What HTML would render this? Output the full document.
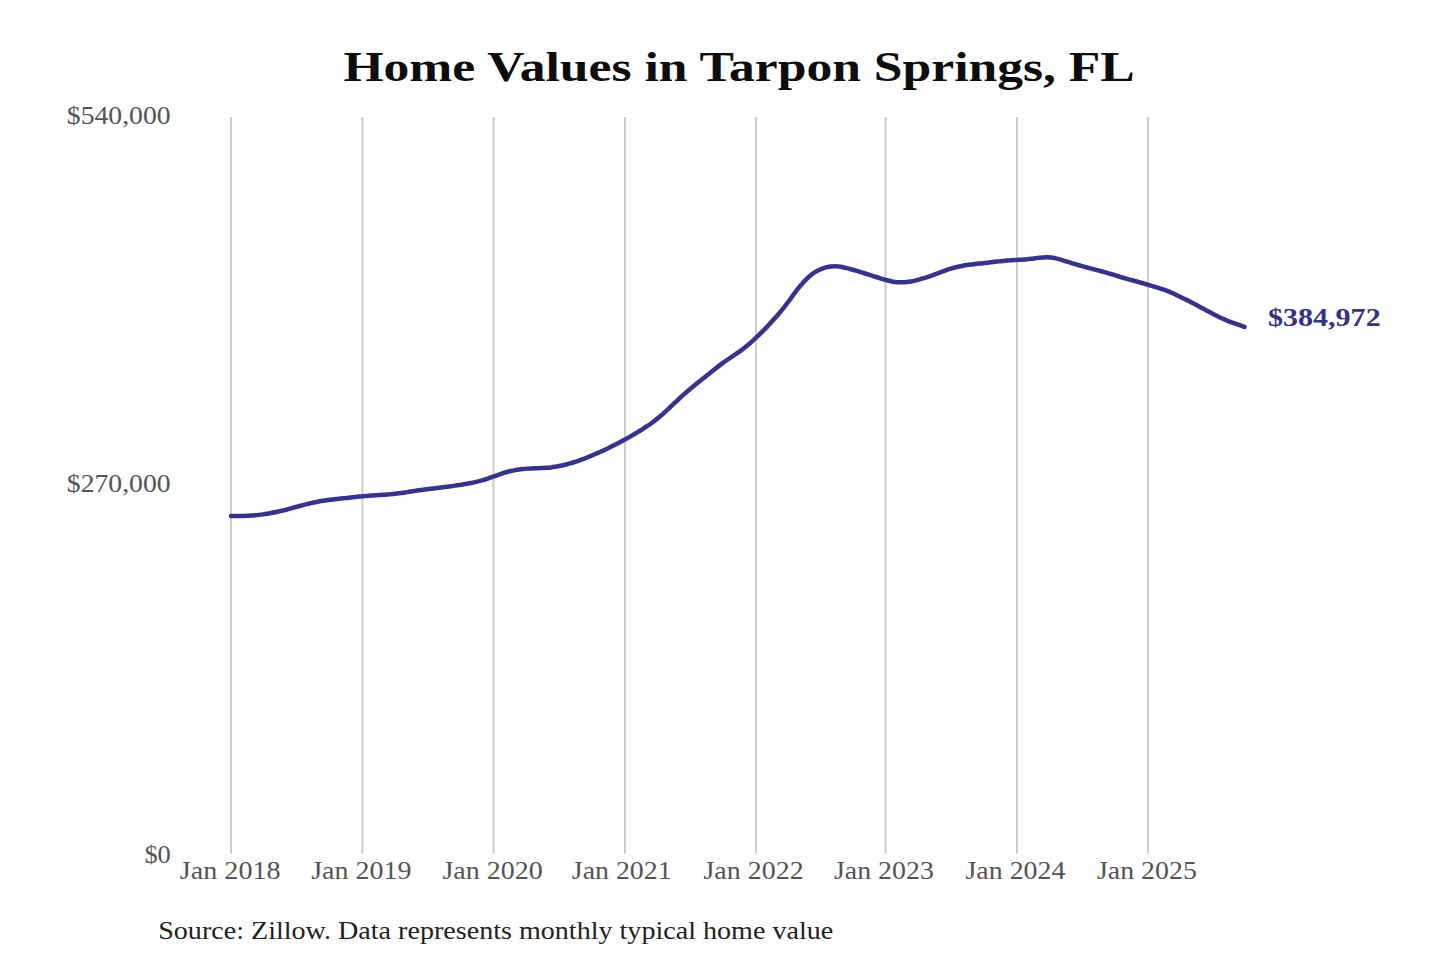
<!DOCTYPE html>
<html><head><meta charset="utf-8"><style>
html,body{margin:0;padding:0;background:#fefefe;width:1440px;height:960px;overflow:hidden}
svg{display:block;position:absolute;left:0;top:0}
text{font-family:"Liberation Serif",serif}
</style></head><body>
<svg width="1440" height="960" viewBox="0 0 1440 960">
<rect width="1440" height="960" fill="#fefefe"/>
<g stroke="#c9c9c9" stroke-width="1.8">
<line x1="231.00" y1="117" x2="231.00" y2="853.8"/>
<line x1="362.40" y1="117" x2="362.40" y2="853.8"/>
<line x1="493.50" y1="117" x2="493.50" y2="853.8"/>
<line x1="624.90" y1="117" x2="624.90" y2="853.8"/>
<line x1="755.90" y1="117" x2="755.90" y2="853.8"/>
<line x1="885.50" y1="117" x2="885.50" y2="853.8"/>
<line x1="1016.90" y1="117" x2="1016.90" y2="853.8"/>
<line x1="1148.00" y1="117" x2="1148.00" y2="853.8"/>
</g>
<path d="M231.00,515.94 C231.67,515.94 233.67,515.96 235.00,515.97 C236.33,515.97 237.67,515.97 239.00,515.97 C240.33,515.96 241.67,515.95 243.00,515.92 C244.33,515.89 245.67,515.85 247.00,515.79 C248.33,515.74 249.67,515.66 251.00,515.58 C252.33,515.49 253.67,515.39 255.00,515.27 C256.33,515.15 257.67,515.02 259.00,514.87 C260.33,514.72 261.67,514.55 263.00,514.37 C264.33,514.19 265.67,513.99 267.00,513.77 C268.33,513.56 269.67,513.32 271.00,513.08 C272.33,512.83 273.67,512.57 275.00,512.29 C276.33,512.01 277.67,511.72 279.00,511.42 C280.33,511.11 281.67,510.80 283.00,510.47 C284.33,510.14 285.67,509.80 287.00,509.45 C288.33,509.10 289.67,508.74 291.00,508.38 C292.33,508.02 293.67,507.65 295.00,507.28 C296.33,506.92 297.67,506.55 299.00,506.19 C300.33,505.83 301.67,505.47 303.00,505.12 C304.33,504.78 305.67,504.43 307.00,504.11 C308.33,503.78 309.67,503.46 311.00,503.15 C312.33,502.85 313.67,502.55 315.00,502.27 C316.33,502.00 317.67,501.74 319.00,501.49 C320.33,501.25 321.67,501.03 323.00,500.82 C324.33,500.61 325.67,500.42 327.00,500.24 C328.33,500.05 329.67,499.89 331.00,499.72 C332.33,499.56 333.67,499.41 335.00,499.26 C336.33,499.10 337.67,498.96 339.00,498.81 C340.33,498.65 341.67,498.50 343.00,498.35 C344.33,498.20 345.67,498.04 347.00,497.89 C348.33,497.73 349.67,497.58 351.00,497.43 C352.33,497.28 353.67,497.14 355.00,496.99 C356.33,496.85 357.67,496.71 359.00,496.59 C360.33,496.46 361.67,496.33 363.00,496.22 C364.33,496.10 365.67,496.00 367.00,495.89 C368.33,495.79 369.67,495.70 371.00,495.61 C372.33,495.51 373.67,495.43 375.00,495.34 C376.33,495.25 377.67,495.17 379.00,495.09 C380.33,495.00 381.67,494.92 383.00,494.83 C384.33,494.74 385.67,494.65 387.00,494.55 C388.33,494.45 389.67,494.34 391.00,494.22 C392.33,494.10 393.67,493.96 395.00,493.81 C396.33,493.66 397.67,493.49 399.00,493.31 C400.33,493.13 401.67,492.94 403.00,492.74 C404.33,492.54 405.67,492.33 407.00,492.12 C408.33,491.91 409.67,491.69 411.00,491.48 C412.33,491.27 413.67,491.06 415.00,490.86 C416.33,490.66 417.67,490.46 419.00,490.27 C420.33,490.09 421.67,489.90 423.00,489.72 C424.33,489.55 425.67,489.37 427.00,489.20 C428.33,489.03 429.67,488.86 431.00,488.69 C432.33,488.52 433.67,488.36 435.00,488.19 C436.33,488.03 437.67,487.86 439.00,487.69 C440.33,487.52 441.67,487.36 443.00,487.19 C444.33,487.02 445.67,486.85 447.00,486.68 C448.33,486.50 449.67,486.33 451.00,486.15 C452.33,485.98 453.67,485.80 455.00,485.62 C456.33,485.43 457.67,485.25 459.00,485.05 C460.33,484.85 461.67,484.65 463.00,484.44 C464.33,484.22 465.67,484.00 467.00,483.76 C468.33,483.52 469.67,483.27 471.00,483.00 C472.33,482.73 473.67,482.45 475.00,482.15 C476.33,481.84 477.67,481.52 479.00,481.17 C480.33,480.82 481.67,480.45 483.00,480.06 C484.33,479.66 485.67,479.24 487.00,478.80 C488.33,478.36 489.67,477.90 491.00,477.44 C492.33,476.98 493.67,476.49 495.00,476.02 C496.33,475.54 497.67,475.05 499.00,474.58 C500.33,474.12 501.67,473.65 503.00,473.21 C504.33,472.78 505.67,472.36 507.00,471.98 C508.33,471.60 509.67,471.25 511.00,470.94 C512.33,470.63 513.67,470.35 515.00,470.10 C516.33,469.86 517.67,469.64 519.00,469.45 C520.33,469.26 521.67,469.10 523.00,468.96 C524.33,468.83 525.67,468.72 527.00,468.62 C528.33,468.53 529.67,468.46 531.00,468.40 C532.33,468.34 533.67,468.30 535.00,468.26 C536.33,468.22 537.67,468.19 539.00,468.15 C540.33,468.11 541.67,468.08 543.00,468.02 C544.33,467.96 545.67,467.90 547.00,467.80 C548.33,467.69 549.67,467.57 551.00,467.41 C552.33,467.25 553.67,467.05 555.00,466.83 C556.33,466.60 557.67,466.35 559.00,466.08 C560.33,465.81 561.67,465.51 563.00,465.20 C564.33,464.89 565.67,464.56 567.00,464.21 C568.33,463.86 569.67,463.49 571.00,463.10 C572.33,462.71 573.67,462.30 575.00,461.87 C576.33,461.44 577.67,460.98 579.00,460.51 C580.33,460.04 581.67,459.55 583.00,459.05 C584.33,458.55 585.67,458.02 587.00,457.49 C588.33,456.96 589.67,456.42 591.00,455.87 C592.33,455.32 593.67,454.75 595.00,454.18 C596.33,453.61 597.67,453.03 599.00,452.44 C600.33,451.84 601.67,451.24 603.00,450.63 C604.33,450.01 605.67,449.39 607.00,448.75 C608.33,448.11 609.67,447.47 611.00,446.81 C612.33,446.15 613.67,445.48 615.00,444.80 C616.33,444.13 617.67,443.44 619.00,442.73 C620.33,442.03 621.67,441.32 623.00,440.60 C624.33,439.88 625.67,439.14 627.00,438.40 C628.33,437.65 629.67,436.89 631.00,436.12 C632.33,435.35 633.67,434.57 635.00,433.78 C636.33,432.98 637.67,432.17 639.00,431.35 C640.33,430.52 641.67,429.69 643.00,428.83 C644.33,427.98 645.67,427.12 647.00,426.22 C648.33,425.32 649.67,424.41 651.00,423.46 C652.33,422.50 653.67,421.52 655.00,420.50 C656.33,419.47 657.67,418.40 659.00,417.30 C660.33,416.20 661.67,415.05 663.00,413.87 C664.33,412.69 665.67,411.48 667.00,410.23 C668.33,408.99 669.67,407.69 671.00,406.41 C672.33,405.13 673.67,403.82 675.00,402.55 C676.33,401.28 677.67,400.01 679.00,398.78 C680.33,397.54 681.67,396.33 683.00,395.14 C684.33,393.95 685.67,392.79 687.00,391.64 C688.33,390.49 689.67,389.37 691.00,388.26 C692.33,387.15 693.67,386.06 695.00,384.97 C696.33,383.89 697.67,382.81 699.00,381.74 C700.33,380.66 701.67,379.60 703.00,378.53 C704.33,377.46 705.67,376.39 707.00,375.33 C708.33,374.26 709.67,373.19 711.00,372.14 C712.33,371.08 713.67,370.02 715.00,368.98 C716.33,367.93 717.67,366.90 719.00,365.88 C720.33,364.86 721.67,363.86 723.00,362.88 C724.33,361.90 725.67,360.95 727.00,360.02 C728.33,359.08 729.67,358.18 731.00,357.27 C732.33,356.36 733.67,355.47 735.00,354.57 C736.33,353.66 737.67,352.76 739.00,351.82 C740.33,350.88 741.67,349.94 743.00,348.93 C744.33,347.92 745.67,346.87 747.00,345.77 C748.33,344.66 749.67,343.50 751.00,342.32 C752.33,341.14 753.67,339.91 755.00,338.67 C756.33,337.43 757.67,336.17 759.00,334.89 C760.33,333.60 761.67,332.29 763.00,330.95 C764.33,329.61 765.67,328.24 767.00,326.84 C768.33,325.44 769.67,324.00 771.00,322.55 C772.33,321.09 773.67,319.61 775.00,318.11 C776.33,316.60 777.67,315.09 779.00,313.52 C780.33,311.95 781.67,310.35 783.00,308.69 C784.33,307.02 785.67,305.29 787.00,303.52 C788.33,301.76 789.67,299.90 791.00,298.09 C792.33,296.27 793.67,294.41 795.00,292.63 C796.33,290.85 797.67,289.07 799.00,287.41 C800.33,285.76 801.67,284.17 803.00,282.69 C804.33,281.22 805.67,279.84 807.00,278.57 C808.33,277.30 809.67,276.13 811.00,275.07 C812.33,274.01 813.67,273.06 815.00,272.20 C816.33,271.35 817.67,270.60 819.00,269.95 C820.33,269.29 821.67,268.74 823.00,268.27 C824.33,267.80 825.67,267.42 827.00,267.12 C828.33,266.81 829.67,266.59 831.00,266.46 C832.33,266.32 833.67,266.28 835.00,266.30 C836.33,266.33 837.67,266.44 839.00,266.60 C840.33,266.76 841.67,266.99 843.00,267.25 C844.33,267.52 845.67,267.84 847.00,268.17 C848.33,268.50 849.67,268.87 851.00,269.24 C852.33,269.61 853.67,269.99 855.00,270.38 C856.33,270.77 857.67,271.17 859.00,271.58 C860.33,271.98 861.67,272.39 863.00,272.81 C864.33,273.22 865.67,273.64 867.00,274.06 C868.33,274.49 869.67,274.91 871.00,275.34 C872.33,275.76 873.67,276.19 875.00,276.62 C876.33,277.04 877.67,277.47 879.00,277.89 C880.33,278.30 881.67,278.73 883.00,279.12 C884.33,279.52 885.67,279.92 887.00,280.27 C888.33,280.62 889.67,280.95 891.00,281.23 C892.33,281.50 893.67,281.75 895.00,281.92 C896.33,282.09 897.67,282.21 899.00,282.27 C900.33,282.33 901.67,282.33 903.00,282.28 C904.33,282.24 905.67,282.13 907.00,281.99 C908.33,281.84 909.67,281.65 911.00,281.42 C912.33,281.19 913.67,280.91 915.00,280.61 C916.33,280.31 917.67,279.97 919.00,279.61 C920.33,279.25 921.67,278.86 923.00,278.45 C924.33,278.04 925.67,277.61 927.00,277.16 C928.33,276.72 929.67,276.26 931.00,275.79 C932.33,275.32 933.67,274.83 935.00,274.34 C936.33,273.85 937.67,273.34 939.00,272.85 C940.33,272.36 941.67,271.85 943.00,271.37 C944.33,270.89 945.67,270.42 947.00,269.97 C948.33,269.52 949.67,269.09 951.00,268.69 C952.33,268.28 953.67,267.90 955.00,267.54 C956.33,267.19 957.67,266.86 959.00,266.56 C960.33,266.25 961.67,265.98 963.00,265.73 C964.33,265.48 965.67,265.26 967.00,265.06 C968.33,264.85 969.67,264.68 971.00,264.51 C972.33,264.34 973.67,264.20 975.00,264.05 C976.33,263.90 977.67,263.76 979.00,263.61 C980.33,263.47 981.67,263.33 983.00,263.19 C984.33,263.05 985.67,262.91 987.00,262.76 C988.33,262.62 989.67,262.47 991.00,262.31 C992.33,262.16 993.67,262.00 995.00,261.84 C996.33,261.69 997.67,261.53 999.00,261.38 C1000.33,261.23 1001.67,261.08 1003.00,260.94 C1004.33,260.80 1005.67,260.67 1007.00,260.56 C1008.33,260.45 1009.67,260.34 1011.00,260.25 C1012.33,260.16 1013.67,260.09 1015.00,260.02 C1016.33,259.94 1017.67,259.88 1019.00,259.80 C1020.33,259.72 1021.67,259.64 1023.00,259.55 C1024.33,259.45 1025.67,259.35 1027.00,259.22 C1028.33,259.10 1029.67,258.96 1031.00,258.81 C1032.33,258.66 1033.67,258.48 1035.00,258.31 C1036.33,258.15 1037.67,257.97 1039.00,257.82 C1040.33,257.68 1041.67,257.53 1043.00,257.44 C1044.33,257.35 1045.67,257.27 1047.00,257.28 C1048.33,257.29 1049.67,257.35 1051.00,257.50 C1052.33,257.65 1053.67,257.89 1055.00,258.17 C1056.33,258.45 1057.67,258.81 1059.00,259.18 C1060.33,259.55 1061.67,259.98 1063.00,260.39 C1064.33,260.80 1065.67,261.23 1067.00,261.65 C1068.33,262.06 1069.67,262.48 1071.00,262.88 C1072.33,263.29 1073.67,263.68 1075.00,264.08 C1076.33,264.47 1077.67,264.86 1079.00,265.24 C1080.33,265.62 1081.67,265.99 1083.00,266.37 C1084.33,266.74 1085.67,267.11 1087.00,267.47 C1088.33,267.84 1089.67,268.20 1091.00,268.56 C1092.33,268.92 1093.67,269.28 1095.00,269.63 C1096.33,269.98 1097.67,270.33 1099.00,270.68 C1100.33,271.03 1101.67,271.38 1103.00,271.74 C1104.33,272.10 1105.67,272.47 1107.00,272.85 C1108.33,273.24 1109.67,273.63 1111.00,274.03 C1112.33,274.43 1113.67,274.85 1115.00,275.26 C1116.33,275.67 1117.67,276.10 1119.00,276.51 C1120.33,276.92 1121.67,277.34 1123.00,277.74 C1124.33,278.14 1125.67,278.52 1127.00,278.89 C1128.33,279.27 1129.67,279.62 1131.00,279.97 C1132.33,280.33 1133.67,280.67 1135.00,281.03 C1136.33,281.38 1137.67,281.74 1139.00,282.11 C1140.33,282.49 1141.67,282.88 1143.00,283.27 C1144.33,283.67 1145.67,284.08 1147.00,284.48 C1148.33,284.88 1149.67,285.28 1151.00,285.68 C1152.33,286.07 1153.67,286.46 1155.00,286.86 C1156.33,287.27 1157.67,287.67 1159.00,288.10 C1160.33,288.52 1161.67,288.96 1163.00,289.42 C1164.33,289.89 1165.67,290.37 1167.00,290.88 C1168.33,291.40 1169.67,291.94 1171.00,292.51 C1172.33,293.09 1173.67,293.70 1175.00,294.32 C1176.33,294.94 1177.67,295.59 1179.00,296.23 C1180.33,296.87 1181.67,297.51 1183.00,298.16 C1184.33,298.81 1185.67,299.45 1187.00,300.12 C1188.33,300.78 1189.67,301.45 1191.00,302.14 C1192.33,302.83 1193.67,303.54 1195.00,304.25 C1196.33,304.96 1197.67,305.68 1199.00,306.40 C1200.33,307.11 1201.67,307.83 1203.00,308.55 C1204.33,309.26 1205.67,309.98 1207.00,310.69 C1208.33,311.40 1209.67,312.11 1211.00,312.82 C1212.33,313.52 1213.67,314.23 1215.00,314.92 C1216.33,315.61 1217.67,316.29 1219.00,316.94 C1220.33,317.59 1221.67,318.22 1223.00,318.82 C1224.33,319.42 1225.67,320.00 1227.00,320.55 C1228.33,321.09 1229.67,321.61 1231.00,322.11 C1232.33,322.61 1233.67,323.07 1235.00,323.54 C1236.33,324.00 1237.67,324.45 1239.00,324.92 C1240.33,325.39 1242.08,326.01 1243.00,326.34 C1243.92,326.67 1244.25,326.80 1244.50,326.89" fill="none" stroke="#37328a" stroke-width="4.5" stroke-linecap="round" stroke-linejoin="round"/>
<text x="343.40" y="81.10" textLength="791.41" lengthAdjust="spacingAndGlyphs" font-size="42.5" font-weight="bold" fill="#0d0d0d">Home Values in Tarpon Springs, FL</text>
<text x="66.80" y="124.20" textLength="103.86" lengthAdjust="spacingAndGlyphs" font-size="26" font-weight="normal" fill="#555555">$540,000</text>
<text x="66.80" y="492.10" textLength="103.86" lengthAdjust="spacingAndGlyphs" font-size="26" font-weight="normal" fill="#555555">$270,000</text>
<text x="144.40" y="863.10" textLength="26.42" lengthAdjust="spacingAndGlyphs" font-size="26" font-weight="normal" fill="#555555">$0</text>
<text x="179.80" y="879.20" textLength="100.83" lengthAdjust="spacingAndGlyphs" font-size="26" font-weight="normal" fill="#555555">Jan 2018</text>
<text x="311.20" y="879.20" textLength="100.24" lengthAdjust="spacingAndGlyphs" font-size="26" font-weight="normal" fill="#555555">Jan 2019</text>
<text x="442.40" y="879.20" textLength="100.24" lengthAdjust="spacingAndGlyphs" font-size="26" font-weight="normal" fill="#555555">Jan 2020</text>
<text x="571.80" y="879.20" textLength="99.86" lengthAdjust="spacingAndGlyphs" font-size="26" font-weight="normal" fill="#555555">Jan 2021</text>
<text x="703.50" y="879.20" textLength="100.13" lengthAdjust="spacingAndGlyphs" font-size="26" font-weight="normal" fill="#555555">Jan 2022</text>
<text x="834.00" y="879.20" textLength="99.85" lengthAdjust="spacingAndGlyphs" font-size="26" font-weight="normal" fill="#555555">Jan 2023</text>
<text x="965.50" y="879.20" textLength="99.92" lengthAdjust="spacingAndGlyphs" font-size="26" font-weight="normal" fill="#555555">Jan 2024</text>
<text x="1097.00" y="879.20" textLength="99.82" lengthAdjust="spacingAndGlyphs" font-size="26" font-weight="normal" fill="#555555">Jan 2025</text>
<text x="1268.00" y="325.70" textLength="112.65" lengthAdjust="spacingAndGlyphs" font-size="26" font-weight="bold" fill="#37327f">$384,972</text>
<text x="158.20" y="938.70" textLength="675.01" lengthAdjust="spacingAndGlyphs" font-size="26" font-weight="normal" fill="#222222">Source: Zillow. Data represents monthly typical home value</text>
</svg>
</body></html>
